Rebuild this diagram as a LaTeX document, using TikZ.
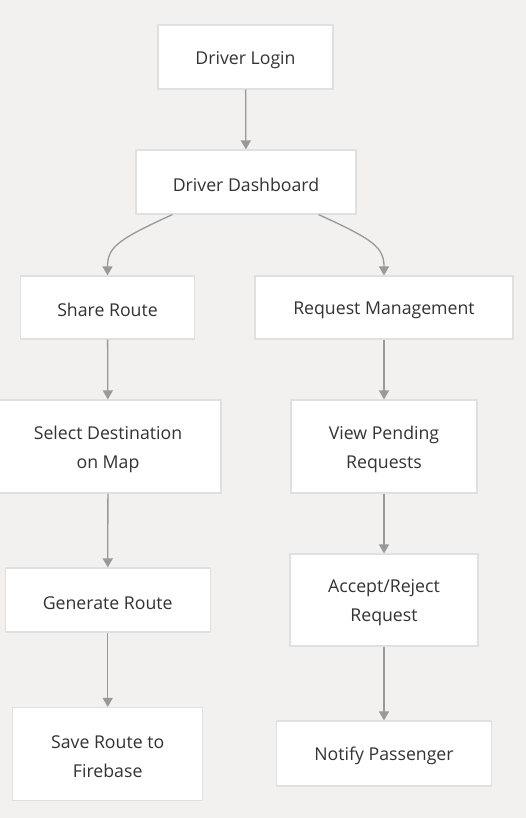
\documentclass[tikz,border=0pt]{standalone}
\usepackage{fontspec}
\setmainfont{Open Sans}
\usetikzlibrary{arrows.meta}
\definecolor{bgc}{HTML}{F2F1EF}
\definecolor{bord}{HTML}{E0E0E0}
\definecolor{arr}{HTML}{999999}
\definecolor{txt}{HTML}{333333}
\newcommand{\toppad}{\rule{0pt}{19pt}}
\tikzset{
  box/.style={draw=bord, line width=1.2pt, fill=white, inner sep=0pt, align=center,
    font=\fontsize{17.7}{29}\selectfont, text=txt},
  flow/.style={draw=arr, line width=1.3pt, -{Triangle[width=10pt,length=9pt]}}
}
\begin{document}
\begin{tikzpicture}[x=1pt,y=-1pt]
\fill[bgc] (0,0) rectangle (526,818);
\useasboundingbox (0,0) rectangle (526,818);
\node[box, minimum width=175pt, minimum height=64pt] (login) at (245.5,57) {\toppad Driver Login};
\node[box, minimum width=220pt, minimum height=64pt] (dash) at (246,182) {\toppad Driver Dashboard};
\node[box, minimum width=174pt, minimum height=63pt] (share) at (107.5,307.5) {\toppad Share Route};
\node[box, minimum width=258pt, minimum height=63pt] (req) at (384,307.5) {\toppad Request Management};
\node[box, minimum width=226pt, minimum height=93pt] (sel) at (108,446.5) {\toppad Select Destination\\on Map};
\node[box, minimum width=205pt, minimum height=64pt] (gen) at (107.7,600) {\toppad Generate Route};
\node[box, minimum width=190pt, minimum height=93pt] (save) at (107.7,754) {\toppad Save Route to\\Firebase};
\node[box, minimum width=186pt, minimum height=93pt] (view) at (384,446.5) {\toppad View Pending\\Requests};
\node[box, minimum width=188pt, minimum height=92pt] (acc) at (384,600) {\toppad Accept/Reject\\Request};
\node[box, minimum width=215pt, minimum height=65pt] (notify) at (384,753.5) {\toppad Notify Passenger};
\draw[flow] (login) -- (dash);
\draw[flow] ([xshift=37pt]dash.south west) .. controls +(-55,25) and +(0,-28) .. (share.north);
\draw[flow] ([xshift=-38pt]dash.south east) .. controls +(55,25) and +(0,-28) .. (req.north);
\draw[flow] (share) -- (sel);
\draw[flow] (sel) -- (gen);
\draw[flow] (gen) -- (save);
\draw[flow] (req) -- (view);
\draw[flow] (view) -- (acc);
\draw[flow] (acc) -- (notify);
\end{tikzpicture}
\end{document}
